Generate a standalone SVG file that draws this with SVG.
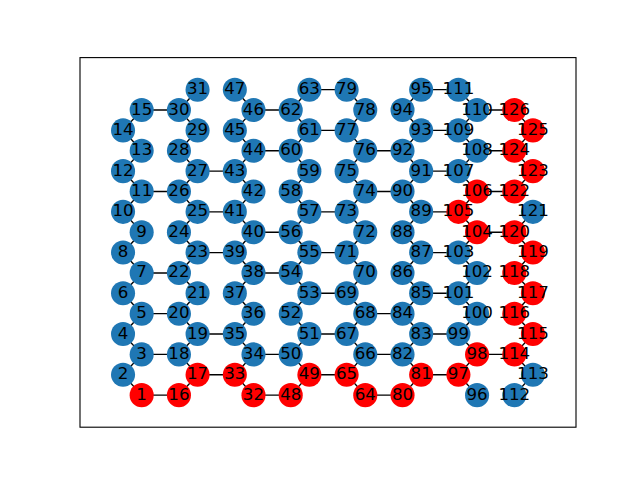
<svg xmlns="http://www.w3.org/2000/svg" width="640" height="480" viewBox="0 0 640 480">
<style>
.edges line{stroke:#000;stroke-width:1.39;fill:none}
.b circle{fill:#1f77b4}
.r circle{fill:#ff0000}
text{font-family:"DejaVu Sans",sans-serif;font-size:16.67px;text-anchor:middle;fill:#000}
</style>
<rect x="0" y="0" width="640" height="480" fill="#fff"/>
<rect x="80" y="57.6" width="496" height="369.6" fill="none" stroke="#000" stroke-width="1.11"/>
<g id="edges" class="edges">
<line x1="141.67" y1="395.13" x2="123.04" y2="374.77"/>
<line x1="123.04" y1="374.77" x2="141.67" y2="354.40"/>
<line x1="141.67" y1="354.40" x2="123.04" y2="334.04"/>
<line x1="123.04" y1="334.04" x2="141.67" y2="313.67"/>
<line x1="141.67" y1="313.67" x2="123.04" y2="293.31"/>
<line x1="123.04" y1="293.31" x2="141.67" y2="272.95"/>
<line x1="141.67" y1="272.95" x2="123.04" y2="252.58"/>
<line x1="123.04" y1="252.58" x2="141.67" y2="232.22"/>
<line x1="141.67" y1="232.22" x2="123.04" y2="211.85"/>
<line x1="123.04" y1="211.85" x2="141.67" y2="191.49"/>
<line x1="141.67" y1="191.49" x2="123.04" y2="171.13"/>
<line x1="123.04" y1="171.13" x2="141.67" y2="150.76"/>
<line x1="141.67" y1="150.76" x2="123.04" y2="130.40"/>
<line x1="123.04" y1="130.40" x2="141.67" y2="110.03"/>
<line x1="178.94" y1="395.13" x2="197.57" y2="374.77"/>
<line x1="197.57" y1="374.77" x2="178.94" y2="354.40"/>
<line x1="178.94" y1="354.40" x2="197.57" y2="334.04"/>
<line x1="197.57" y1="334.04" x2="178.94" y2="313.67"/>
<line x1="178.94" y1="313.67" x2="197.57" y2="293.31"/>
<line x1="197.57" y1="293.31" x2="178.94" y2="272.95"/>
<line x1="178.94" y1="272.95" x2="197.57" y2="252.58"/>
<line x1="197.57" y1="252.58" x2="178.94" y2="232.22"/>
<line x1="178.94" y1="232.22" x2="197.57" y2="211.85"/>
<line x1="197.57" y1="211.85" x2="178.94" y2="191.49"/>
<line x1="178.94" y1="191.49" x2="197.57" y2="171.13"/>
<line x1="197.57" y1="171.13" x2="178.94" y2="150.76"/>
<line x1="178.94" y1="150.76" x2="197.57" y2="130.40"/>
<line x1="197.57" y1="130.40" x2="178.94" y2="110.03"/>
<line x1="178.94" y1="110.03" x2="197.57" y2="89.67"/>
<line x1="253.47" y1="395.13" x2="234.84" y2="374.77"/>
<line x1="234.84" y1="374.77" x2="253.47" y2="354.40"/>
<line x1="253.47" y1="354.40" x2="234.84" y2="334.04"/>
<line x1="234.84" y1="334.04" x2="253.47" y2="313.67"/>
<line x1="253.47" y1="313.67" x2="234.84" y2="293.31"/>
<line x1="234.84" y1="293.31" x2="253.47" y2="272.95"/>
<line x1="253.47" y1="272.95" x2="234.84" y2="252.58"/>
<line x1="234.84" y1="252.58" x2="253.47" y2="232.22"/>
<line x1="253.47" y1="232.22" x2="234.84" y2="211.85"/>
<line x1="234.84" y1="211.85" x2="253.47" y2="191.49"/>
<line x1="253.47" y1="191.49" x2="234.84" y2="171.13"/>
<line x1="234.84" y1="171.13" x2="253.47" y2="150.76"/>
<line x1="253.47" y1="150.76" x2="234.84" y2="130.40"/>
<line x1="234.84" y1="130.40" x2="253.47" y2="110.03"/>
<line x1="253.47" y1="110.03" x2="234.84" y2="89.67"/>
<line x1="290.73" y1="395.13" x2="309.37" y2="374.77"/>
<line x1="309.37" y1="374.77" x2="290.73" y2="354.40"/>
<line x1="290.73" y1="354.40" x2="309.37" y2="334.04"/>
<line x1="309.37" y1="334.04" x2="290.73" y2="313.67"/>
<line x1="290.73" y1="313.67" x2="309.37" y2="293.31"/>
<line x1="309.37" y1="293.31" x2="290.73" y2="272.95"/>
<line x1="290.73" y1="272.95" x2="309.37" y2="252.58"/>
<line x1="309.37" y1="252.58" x2="290.73" y2="232.22"/>
<line x1="290.73" y1="232.22" x2="309.37" y2="211.85"/>
<line x1="309.37" y1="211.85" x2="290.73" y2="191.49"/>
<line x1="290.73" y1="191.49" x2="309.37" y2="171.13"/>
<line x1="309.37" y1="171.13" x2="290.73" y2="150.76"/>
<line x1="290.73" y1="150.76" x2="309.37" y2="130.40"/>
<line x1="309.37" y1="130.40" x2="290.73" y2="110.03"/>
<line x1="290.73" y1="110.03" x2="309.37" y2="89.67"/>
<line x1="365.26" y1="395.13" x2="346.63" y2="374.77"/>
<line x1="346.63" y1="374.77" x2="365.26" y2="354.40"/>
<line x1="365.26" y1="354.40" x2="346.63" y2="334.04"/>
<line x1="346.63" y1="334.04" x2="365.26" y2="313.67"/>
<line x1="365.26" y1="313.67" x2="346.63" y2="293.31"/>
<line x1="346.63" y1="293.31" x2="365.26" y2="272.95"/>
<line x1="365.26" y1="272.95" x2="346.63" y2="252.58"/>
<line x1="346.63" y1="252.58" x2="365.26" y2="232.22"/>
<line x1="365.26" y1="232.22" x2="346.63" y2="211.85"/>
<line x1="346.63" y1="211.85" x2="365.26" y2="191.49"/>
<line x1="365.26" y1="191.49" x2="346.63" y2="171.13"/>
<line x1="346.63" y1="171.13" x2="365.26" y2="150.76"/>
<line x1="365.26" y1="150.76" x2="346.63" y2="130.40"/>
<line x1="346.63" y1="130.40" x2="365.26" y2="110.03"/>
<line x1="365.26" y1="110.03" x2="346.63" y2="89.67"/>
<line x1="402.53" y1="395.13" x2="421.16" y2="374.77"/>
<line x1="421.16" y1="374.77" x2="402.53" y2="354.40"/>
<line x1="402.53" y1="354.40" x2="421.16" y2="334.04"/>
<line x1="421.16" y1="334.04" x2="402.53" y2="313.67"/>
<line x1="402.53" y1="313.67" x2="421.16" y2="293.31"/>
<line x1="421.16" y1="293.31" x2="402.53" y2="272.95"/>
<line x1="402.53" y1="272.95" x2="421.16" y2="252.58"/>
<line x1="421.16" y1="252.58" x2="402.53" y2="232.22"/>
<line x1="402.53" y1="232.22" x2="421.16" y2="211.85"/>
<line x1="421.16" y1="211.85" x2="402.53" y2="191.49"/>
<line x1="402.53" y1="191.49" x2="421.16" y2="171.13"/>
<line x1="421.16" y1="171.13" x2="402.53" y2="150.76"/>
<line x1="402.53" y1="150.76" x2="421.16" y2="130.40"/>
<line x1="421.16" y1="130.40" x2="402.53" y2="110.03"/>
<line x1="402.53" y1="110.03" x2="421.16" y2="89.67"/>
<line x1="477.06" y1="395.13" x2="458.43" y2="374.77"/>
<line x1="458.43" y1="374.77" x2="477.06" y2="354.40"/>
<line x1="477.06" y1="354.40" x2="458.43" y2="334.04"/>
<line x1="458.43" y1="334.04" x2="477.06" y2="313.67"/>
<line x1="477.06" y1="313.67" x2="458.43" y2="293.31"/>
<line x1="458.43" y1="293.31" x2="477.06" y2="272.95"/>
<line x1="477.06" y1="272.95" x2="458.43" y2="252.58"/>
<line x1="458.43" y1="252.58" x2="477.06" y2="232.22"/>
<line x1="477.06" y1="232.22" x2="458.43" y2="211.85"/>
<line x1="458.43" y1="211.85" x2="477.06" y2="191.49"/>
<line x1="477.06" y1="191.49" x2="458.43" y2="171.13"/>
<line x1="458.43" y1="171.13" x2="477.06" y2="150.76"/>
<line x1="477.06" y1="150.76" x2="458.43" y2="130.40"/>
<line x1="458.43" y1="130.40" x2="477.06" y2="110.03"/>
<line x1="477.06" y1="110.03" x2="458.43" y2="89.67"/>
<line x1="514.32" y1="395.13" x2="532.96" y2="374.77"/>
<line x1="532.96" y1="374.77" x2="514.32" y2="354.40"/>
<line x1="514.32" y1="354.40" x2="532.96" y2="334.04"/>
<line x1="532.96" y1="334.04" x2="514.32" y2="313.67"/>
<line x1="514.32" y1="313.67" x2="532.96" y2="293.31"/>
<line x1="532.96" y1="293.31" x2="514.32" y2="272.95"/>
<line x1="514.32" y1="272.95" x2="532.96" y2="252.58"/>
<line x1="532.96" y1="252.58" x2="514.32" y2="232.22"/>
<line x1="514.32" y1="232.22" x2="532.96" y2="211.85"/>
<line x1="514.32" y1="191.49" x2="532.96" y2="171.13"/>
<line x1="532.96" y1="171.13" x2="514.32" y2="150.76"/>
<line x1="514.32" y1="150.76" x2="532.96" y2="130.40"/>
<line x1="532.96" y1="130.40" x2="514.32" y2="110.03"/>
<line x1="141.67" y1="395.13" x2="178.94" y2="395.13"/>
<line x1="141.67" y1="354.40" x2="178.94" y2="354.40"/>
<line x1="141.67" y1="313.67" x2="178.94" y2="313.67"/>
<line x1="141.67" y1="272.95" x2="178.94" y2="272.95"/>
<line x1="141.67" y1="191.49" x2="178.94" y2="191.49"/>
<line x1="141.67" y1="110.03" x2="178.94" y2="110.03"/>
<line x1="197.57" y1="374.77" x2="234.84" y2="374.77"/>
<line x1="197.57" y1="334.04" x2="234.84" y2="334.04"/>
<line x1="197.57" y1="252.58" x2="234.84" y2="252.58"/>
<line x1="197.57" y1="211.85" x2="234.84" y2="211.85"/>
<line x1="197.57" y1="171.13" x2="234.84" y2="171.13"/>
<line x1="253.47" y1="395.13" x2="290.73" y2="395.13"/>
<line x1="253.47" y1="354.40" x2="290.73" y2="354.40"/>
<line x1="253.47" y1="272.95" x2="290.73" y2="272.95"/>
<line x1="253.47" y1="232.22" x2="290.73" y2="232.22"/>
<line x1="253.47" y1="150.76" x2="290.73" y2="150.76"/>
<line x1="253.47" y1="110.03" x2="290.73" y2="110.03"/>
<line x1="309.37" y1="374.77" x2="346.63" y2="374.77"/>
<line x1="309.37" y1="334.04" x2="346.63" y2="334.04"/>
<line x1="309.37" y1="293.31" x2="346.63" y2="293.31"/>
<line x1="309.37" y1="252.58" x2="346.63" y2="252.58"/>
<line x1="309.37" y1="211.85" x2="346.63" y2="211.85"/>
<line x1="309.37" y1="130.40" x2="346.63" y2="130.40"/>
<line x1="309.37" y1="89.67" x2="346.63" y2="89.67"/>
<line x1="365.26" y1="395.13" x2="402.53" y2="395.13"/>
<line x1="365.26" y1="354.40" x2="402.53" y2="354.40"/>
<line x1="365.26" y1="313.67" x2="402.53" y2="313.67"/>
<line x1="365.26" y1="191.49" x2="402.53" y2="191.49"/>
<line x1="365.26" y1="150.76" x2="402.53" y2="150.76"/>
<line x1="421.16" y1="374.77" x2="458.43" y2="374.77"/>
<line x1="421.16" y1="334.04" x2="458.43" y2="334.04"/>
<line x1="421.16" y1="293.31" x2="458.43" y2="293.31"/>
<line x1="421.16" y1="252.58" x2="458.43" y2="252.58"/>
<line x1="421.16" y1="211.85" x2="458.43" y2="211.85"/>
<line x1="421.16" y1="171.13" x2="458.43" y2="171.13"/>
<line x1="421.16" y1="130.40" x2="458.43" y2="130.40"/>
<line x1="421.16" y1="89.67" x2="458.43" y2="89.67"/>
<line x1="477.06" y1="354.40" x2="514.32" y2="354.40"/>
<line x1="477.06" y1="232.22" x2="514.32" y2="232.22"/>
<line x1="477.06" y1="191.49" x2="514.32" y2="191.49"/>
<line x1="477.06" y1="150.76" x2="514.32" y2="150.76"/>
<line x1="477.06" y1="110.03" x2="514.32" y2="110.03"/>
</g>
<g id="n1" class="r"><circle cx="141.67" cy="395.13" r="12.03"/><text x="141.67" y="399.63">1</text></g>
<g id="n2" class="b"><circle cx="123.04" cy="374.77" r="12.03"/><text x="123.04" y="379.27">2</text></g>
<g id="n3" class="b"><circle cx="141.67" cy="354.40" r="12.03"/><text x="141.67" y="358.90">3</text></g>
<g id="n4" class="b"><circle cx="123.04" cy="334.04" r="12.03"/><text x="123.04" y="338.54">4</text></g>
<g id="n5" class="b"><circle cx="141.67" cy="313.67" r="12.03"/><text x="141.67" y="318.17">5</text></g>
<g id="n6" class="b"><circle cx="123.04" cy="293.31" r="12.03"/><text x="123.04" y="297.81">6</text></g>
<g id="n7" class="b"><circle cx="141.67" cy="272.95" r="12.03"/><text x="141.67" y="277.45">7</text></g>
<g id="n8" class="b"><circle cx="123.04" cy="252.58" r="12.03"/><text x="123.04" y="257.08">8</text></g>
<g id="n9" class="b"><circle cx="141.67" cy="232.22" r="12.03"/><text x="141.67" y="236.72">9</text></g>
<g id="n10" class="b"><circle cx="123.04" cy="211.85" r="12.03"/><text x="123.04" y="216.35">10</text></g>
<g id="n11" class="b"><circle cx="141.67" cy="191.49" r="12.03"/><text x="141.67" y="195.99">11</text></g>
<g id="n12" class="b"><circle cx="123.04" cy="171.13" r="12.03"/><text x="123.04" y="175.63">12</text></g>
<g id="n13" class="b"><circle cx="141.67" cy="150.76" r="12.03"/><text x="141.67" y="155.26">13</text></g>
<g id="n14" class="b"><circle cx="123.04" cy="130.40" r="12.03"/><text x="123.04" y="134.90">14</text></g>
<g id="n15" class="b"><circle cx="141.67" cy="110.03" r="12.03"/><text x="141.67" y="114.53">15</text></g>
<g id="n16" class="r"><circle cx="178.94" cy="395.13" r="12.03"/><text x="178.94" y="399.63">16</text></g>
<g id="n17" class="r"><circle cx="197.57" cy="374.77" r="12.03"/><text x="197.57" y="379.27">17</text></g>
<g id="n18" class="b"><circle cx="178.94" cy="354.40" r="12.03"/><text x="178.94" y="358.90">18</text></g>
<g id="n19" class="b"><circle cx="197.57" cy="334.04" r="12.03"/><text x="197.57" y="338.54">19</text></g>
<g id="n20" class="b"><circle cx="178.94" cy="313.67" r="12.03"/><text x="178.94" y="318.17">20</text></g>
<g id="n21" class="b"><circle cx="197.57" cy="293.31" r="12.03"/><text x="197.57" y="297.81">21</text></g>
<g id="n22" class="b"><circle cx="178.94" cy="272.95" r="12.03"/><text x="178.94" y="277.45">22</text></g>
<g id="n23" class="b"><circle cx="197.57" cy="252.58" r="12.03"/><text x="197.57" y="257.08">23</text></g>
<g id="n24" class="b"><circle cx="178.94" cy="232.22" r="12.03"/><text x="178.94" y="236.72">24</text></g>
<g id="n25" class="b"><circle cx="197.57" cy="211.85" r="12.03"/><text x="197.57" y="216.35">25</text></g>
<g id="n26" class="b"><circle cx="178.94" cy="191.49" r="12.03"/><text x="178.94" y="195.99">26</text></g>
<g id="n27" class="b"><circle cx="197.57" cy="171.13" r="12.03"/><text x="197.57" y="175.63">27</text></g>
<g id="n28" class="b"><circle cx="178.94" cy="150.76" r="12.03"/><text x="178.94" y="155.26">28</text></g>
<g id="n29" class="b"><circle cx="197.57" cy="130.40" r="12.03"/><text x="197.57" y="134.90">29</text></g>
<g id="n30" class="b"><circle cx="178.94" cy="110.03" r="12.03"/><text x="178.94" y="114.53">30</text></g>
<g id="n31" class="b"><circle cx="197.57" cy="89.67" r="12.03"/><text x="197.57" y="94.17">31</text></g>
<g id="n32" class="r"><circle cx="253.47" cy="395.13" r="12.03"/><text x="253.47" y="399.63">32</text></g>
<g id="n33" class="r"><circle cx="234.84" cy="374.77" r="12.03"/><text x="234.84" y="379.27">33</text></g>
<g id="n34" class="b"><circle cx="253.47" cy="354.40" r="12.03"/><text x="253.47" y="358.90">34</text></g>
<g id="n35" class="b"><circle cx="234.84" cy="334.04" r="12.03"/><text x="234.84" y="338.54">35</text></g>
<g id="n36" class="b"><circle cx="253.47" cy="313.67" r="12.03"/><text x="253.47" y="318.17">36</text></g>
<g id="n37" class="b"><circle cx="234.84" cy="293.31" r="12.03"/><text x="234.84" y="297.81">37</text></g>
<g id="n38" class="b"><circle cx="253.47" cy="272.95" r="12.03"/><text x="253.47" y="277.45">38</text></g>
<g id="n39" class="b"><circle cx="234.84" cy="252.58" r="12.03"/><text x="234.84" y="257.08">39</text></g>
<g id="n40" class="b"><circle cx="253.47" cy="232.22" r="12.03"/><text x="253.47" y="236.72">40</text></g>
<g id="n41" class="b"><circle cx="234.84" cy="211.85" r="12.03"/><text x="234.84" y="216.35">41</text></g>
<g id="n42" class="b"><circle cx="253.47" cy="191.49" r="12.03"/><text x="253.47" y="195.99">42</text></g>
<g id="n43" class="b"><circle cx="234.84" cy="171.13" r="12.03"/><text x="234.84" y="175.63">43</text></g>
<g id="n44" class="b"><circle cx="253.47" cy="150.76" r="12.03"/><text x="253.47" y="155.26">44</text></g>
<g id="n45" class="b"><circle cx="234.84" cy="130.40" r="12.03"/><text x="234.84" y="134.90">45</text></g>
<g id="n46" class="b"><circle cx="253.47" cy="110.03" r="12.03"/><text x="253.47" y="114.53">46</text></g>
<g id="n47" class="b"><circle cx="234.84" cy="89.67" r="12.03"/><text x="234.84" y="94.17">47</text></g>
<g id="n48" class="r"><circle cx="290.73" cy="395.13" r="12.03"/><text x="290.73" y="399.63">48</text></g>
<g id="n49" class="r"><circle cx="309.37" cy="374.77" r="12.03"/><text x="309.37" y="379.27">49</text></g>
<g id="n50" class="b"><circle cx="290.73" cy="354.40" r="12.03"/><text x="290.73" y="358.90">50</text></g>
<g id="n51" class="b"><circle cx="309.37" cy="334.04" r="12.03"/><text x="309.37" y="338.54">51</text></g>
<g id="n52" class="b"><circle cx="290.73" cy="313.67" r="12.03"/><text x="290.73" y="318.17">52</text></g>
<g id="n53" class="b"><circle cx="309.37" cy="293.31" r="12.03"/><text x="309.37" y="297.81">53</text></g>
<g id="n54" class="b"><circle cx="290.73" cy="272.95" r="12.03"/><text x="290.73" y="277.45">54</text></g>
<g id="n55" class="b"><circle cx="309.37" cy="252.58" r="12.03"/><text x="309.37" y="257.08">55</text></g>
<g id="n56" class="b"><circle cx="290.73" cy="232.22" r="12.03"/><text x="290.73" y="236.72">56</text></g>
<g id="n57" class="b"><circle cx="309.37" cy="211.85" r="12.03"/><text x="309.37" y="216.35">57</text></g>
<g id="n58" class="b"><circle cx="290.73" cy="191.49" r="12.03"/><text x="290.73" y="195.99">58</text></g>
<g id="n59" class="b"><circle cx="309.37" cy="171.13" r="12.03"/><text x="309.37" y="175.63">59</text></g>
<g id="n60" class="b"><circle cx="290.73" cy="150.76" r="12.03"/><text x="290.73" y="155.26">60</text></g>
<g id="n61" class="b"><circle cx="309.37" cy="130.40" r="12.03"/><text x="309.37" y="134.90">61</text></g>
<g id="n62" class="b"><circle cx="290.73" cy="110.03" r="12.03"/><text x="290.73" y="114.53">62</text></g>
<g id="n63" class="b"><circle cx="309.37" cy="89.67" r="12.03"/><text x="309.37" y="94.17">63</text></g>
<g id="n64" class="r"><circle cx="365.26" cy="395.13" r="12.03"/><text x="365.26" y="399.63">64</text></g>
<g id="n65" class="r"><circle cx="346.63" cy="374.77" r="12.03"/><text x="346.63" y="379.27">65</text></g>
<g id="n66" class="b"><circle cx="365.26" cy="354.40" r="12.03"/><text x="365.26" y="358.90">66</text></g>
<g id="n67" class="b"><circle cx="346.63" cy="334.04" r="12.03"/><text x="346.63" y="338.54">67</text></g>
<g id="n68" class="b"><circle cx="365.26" cy="313.67" r="12.03"/><text x="365.26" y="318.17">68</text></g>
<g id="n69" class="b"><circle cx="346.63" cy="293.31" r="12.03"/><text x="346.63" y="297.81">69</text></g>
<g id="n70" class="b"><circle cx="365.26" cy="272.95" r="12.03"/><text x="365.26" y="277.45">70</text></g>
<g id="n71" class="b"><circle cx="346.63" cy="252.58" r="12.03"/><text x="346.63" y="257.08">71</text></g>
<g id="n72" class="b"><circle cx="365.26" cy="232.22" r="12.03"/><text x="365.26" y="236.72">72</text></g>
<g id="n73" class="b"><circle cx="346.63" cy="211.85" r="12.03"/><text x="346.63" y="216.35">73</text></g>
<g id="n74" class="b"><circle cx="365.26" cy="191.49" r="12.03"/><text x="365.26" y="195.99">74</text></g>
<g id="n75" class="b"><circle cx="346.63" cy="171.13" r="12.03"/><text x="346.63" y="175.63">75</text></g>
<g id="n76" class="b"><circle cx="365.26" cy="150.76" r="12.03"/><text x="365.26" y="155.26">76</text></g>
<g id="n77" class="b"><circle cx="346.63" cy="130.40" r="12.03"/><text x="346.63" y="134.90">77</text></g>
<g id="n78" class="b"><circle cx="365.26" cy="110.03" r="12.03"/><text x="365.26" y="114.53">78</text></g>
<g id="n79" class="b"><circle cx="346.63" cy="89.67" r="12.03"/><text x="346.63" y="94.17">79</text></g>
<g id="n80" class="r"><circle cx="402.53" cy="395.13" r="12.03"/><text x="402.53" y="399.63">80</text></g>
<g id="n81" class="r"><circle cx="421.16" cy="374.77" r="12.03"/><text x="421.16" y="379.27">81</text></g>
<g id="n82" class="b"><circle cx="402.53" cy="354.40" r="12.03"/><text x="402.53" y="358.90">82</text></g>
<g id="n83" class="b"><circle cx="421.16" cy="334.04" r="12.03"/><text x="421.16" y="338.54">83</text></g>
<g id="n84" class="b"><circle cx="402.53" cy="313.67" r="12.03"/><text x="402.53" y="318.17">84</text></g>
<g id="n85" class="b"><circle cx="421.16" cy="293.31" r="12.03"/><text x="421.16" y="297.81">85</text></g>
<g id="n86" class="b"><circle cx="402.53" cy="272.95" r="12.03"/><text x="402.53" y="277.45">86</text></g>
<g id="n87" class="b"><circle cx="421.16" cy="252.58" r="12.03"/><text x="421.16" y="257.08">87</text></g>
<g id="n88" class="b"><circle cx="402.53" cy="232.22" r="12.03"/><text x="402.53" y="236.72">88</text></g>
<g id="n89" class="b"><circle cx="421.16" cy="211.85" r="12.03"/><text x="421.16" y="216.35">89</text></g>
<g id="n90" class="b"><circle cx="402.53" cy="191.49" r="12.03"/><text x="402.53" y="195.99">90</text></g>
<g id="n91" class="b"><circle cx="421.16" cy="171.13" r="12.03"/><text x="421.16" y="175.63">91</text></g>
<g id="n92" class="b"><circle cx="402.53" cy="150.76" r="12.03"/><text x="402.53" y="155.26">92</text></g>
<g id="n93" class="b"><circle cx="421.16" cy="130.40" r="12.03"/><text x="421.16" y="134.90">93</text></g>
<g id="n94" class="b"><circle cx="402.53" cy="110.03" r="12.03"/><text x="402.53" y="114.53">94</text></g>
<g id="n95" class="b"><circle cx="421.16" cy="89.67" r="12.03"/><text x="421.16" y="94.17">95</text></g>
<g id="n96" class="b"><circle cx="477.06" cy="395.13" r="12.03"/><text x="477.06" y="399.63">96</text></g>
<g id="n97" class="r"><circle cx="458.43" cy="374.77" r="12.03"/><text x="458.43" y="379.27">97</text></g>
<g id="n98" class="r"><circle cx="477.06" cy="354.40" r="12.03"/><text x="477.06" y="358.90">98</text></g>
<g id="n99" class="b"><circle cx="458.43" cy="334.04" r="12.03"/><text x="458.43" y="338.54">99</text></g>
<g id="n100" class="b"><circle cx="477.06" cy="313.67" r="12.03"/><text x="477.06" y="318.17">100</text></g>
<g id="n101" class="b"><circle cx="458.43" cy="293.31" r="12.03"/><text x="458.43" y="297.81">101</text></g>
<g id="n102" class="b"><circle cx="477.06" cy="272.95" r="12.03"/><text x="477.06" y="277.45">102</text></g>
<g id="n103" class="b"><circle cx="458.43" cy="252.58" r="12.03"/><text x="458.43" y="257.08">103</text></g>
<g id="n104" class="r"><circle cx="477.06" cy="232.22" r="12.03"/><text x="477.06" y="236.72">104</text></g>
<g id="n105" class="r"><circle cx="458.43" cy="211.85" r="12.03"/><text x="458.43" y="216.35">105</text></g>
<g id="n106" class="r"><circle cx="477.06" cy="191.49" r="12.03"/><text x="477.06" y="195.99">106</text></g>
<g id="n107" class="b"><circle cx="458.43" cy="171.13" r="12.03"/><text x="458.43" y="175.63">107</text></g>
<g id="n108" class="b"><circle cx="477.06" cy="150.76" r="12.03"/><text x="477.06" y="155.26">108</text></g>
<g id="n109" class="b"><circle cx="458.43" cy="130.40" r="12.03"/><text x="458.43" y="134.90">109</text></g>
<g id="n110" class="b"><circle cx="477.06" cy="110.03" r="12.03"/><text x="477.06" y="114.53">110</text></g>
<g id="n111" class="b"><circle cx="458.43" cy="89.67" r="12.03"/><text x="458.43" y="94.17">111</text></g>
<g id="n112" class="b"><circle cx="514.32" cy="395.13" r="12.03"/><text x="514.32" y="399.63">112</text></g>
<g id="n113" class="b"><circle cx="532.96" cy="374.77" r="12.03"/><text x="532.96" y="379.27">113</text></g>
<g id="n114" class="r"><circle cx="514.32" cy="354.40" r="12.03"/><text x="514.32" y="358.90">114</text></g>
<g id="n115" class="r"><circle cx="532.96" cy="334.04" r="12.03"/><text x="532.96" y="338.54">115</text></g>
<g id="n116" class="r"><circle cx="514.32" cy="313.67" r="12.03"/><text x="514.32" y="318.17">116</text></g>
<g id="n117" class="r"><circle cx="532.96" cy="293.31" r="12.03"/><text x="532.96" y="297.81">117</text></g>
<g id="n118" class="r"><circle cx="514.32" cy="272.95" r="12.03"/><text x="514.32" y="277.45">118</text></g>
<g id="n119" class="r"><circle cx="532.96" cy="252.58" r="12.03"/><text x="532.96" y="257.08">119</text></g>
<g id="n120" class="r"><circle cx="514.32" cy="232.22" r="12.03"/><text x="514.32" y="236.72">120</text></g>
<g id="n121" class="b"><circle cx="532.96" cy="211.85" r="12.03"/><text x="532.96" y="216.35">121</text></g>
<g id="n122" class="r"><circle cx="514.32" cy="191.49" r="12.03"/><text x="514.32" y="195.99">122</text></g>
<g id="n123" class="r"><circle cx="532.96" cy="171.13" r="12.03"/><text x="532.96" y="175.63">123</text></g>
<g id="n124" class="r"><circle cx="514.32" cy="150.76" r="12.03"/><text x="514.32" y="155.26">124</text></g>
<g id="n125" class="r"><circle cx="532.96" cy="130.40" r="12.03"/><text x="532.96" y="134.90">125</text></g>
<g id="n126" class="r"><circle cx="514.32" cy="110.03" r="12.03"/><text x="514.32" y="114.53">126</text></g>
</svg>
